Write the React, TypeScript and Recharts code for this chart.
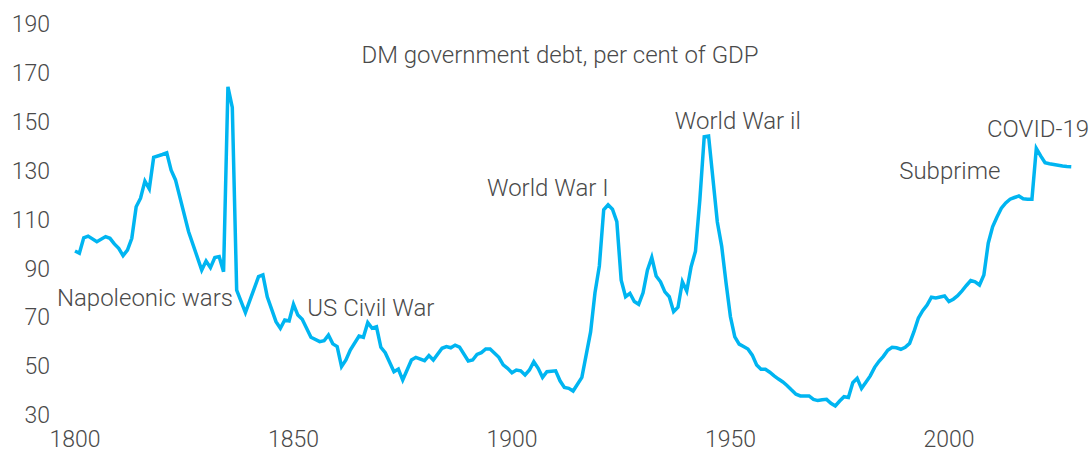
import React from 'react';
import { LineChart, Line, XAxis, YAxis, ReferenceDot } from 'recharts';

// year / debt (% of GDP)
const years = [
  1800, 1801, 1802, 1803, 1805, 1807, 1808, 1809, 1810, 1811, 1812, 1813, 1814, 1815, 1816, 1817,
  1818, 1820, 1821, 1822, 1823, 1826, 1829, 1830, 1831, 1832, 1833, 1834, 1835, 1836, 1837, 1839,
  1842, 1843, 1844, 1846, 1847, 1848, 1849, 1850, 1851, 1852, 1854, 1856, 1857, 1858, 1859, 1860,
  1861, 1862, 1863, 1865, 1866, 1867, 1868, 1869, 1870, 1871, 1873, 1874, 1875, 1877, 1878, 1880,
  1881, 1882, 1884, 1885, 1886, 1887, 1888, 1890, 1891, 1892, 1893, 1894, 1895, 1897, 1898, 1899,
  1900, 1901, 1902, 1903, 1904, 1905, 1906, 1907, 1908, 1910, 1911, 1912, 1913, 1914, 1916, 1918,
  1919, 1920, 1921, 1922, 1923, 1924, 1925, 1926, 1927, 1928, 1929, 1930, 1931, 1932, 1933, 1934,
  1935, 1936, 1937, 1938, 1939, 1940, 1941, 1942, 1943, 1944, 1945, 1947, 1948, 1949, 1950, 1951,
  1952, 1953, 1954, 1955, 1956, 1957, 1958, 1959, 1960, 1961, 1962, 1963, 1964, 1965, 1966, 1968,
  1969, 1970, 1971, 1972, 1973, 1974, 1975, 1976, 1977, 1978, 1979, 1980, 1981, 1982, 1983, 1984,
  1985, 1986, 1987, 1988, 1989, 1990, 1991, 1992, 1993, 1994, 1995, 1996, 1997, 1998, 1999, 2000,
  2001, 2002, 2003, 2004, 2005, 2006, 2007, 2008, 2009, 2010, 2011, 2012, 2013, 2014, 2015, 2016,
  2017, 2018, 2019, 2020, 2021, 2022, 2023, 2024, 2025, 2026, 2027, 2028,
];

const debt = [
  97.1, 96.2, 102.5, 103.2, 100.9, 103, 102.3, 100, 98.2, 95.2, 97.5, 102.3, 115.2, 118.7, 125.7, 122.5,
  135.4, 136.6, 137.3, 130.2, 126.2, 105, 89.3, 93, 90.3, 94.4, 94.8, 88.6, 164.3, 155.9, 81.1, 71.9,
  86.6, 87.3, 78.4, 68.2, 65.5, 68.9, 68.5, 75.3, 70.9, 69.2, 61.8, 60, 60.4, 62.7, 59.1, 58,
  49.8, 52.5, 56.6, 62.3, 61.8, 67.8, 65.5, 66.1, 57.7, 55.5, 47.7, 48.8, 44.3, 52.5, 53.6, 52.2,
  54.3, 52.5, 57.3, 58, 57.5, 58.6, 57.8, 52.1, 52.5, 54.8, 55.5, 57, 57, 53.6, 50.5, 49.1,
  47.3, 48.4, 48.1, 46.4, 48.4, 51.8, 49.1, 45.4, 47.7, 48.1, 44, 41.3, 40.9, 39.8, 45.4, 64,
  80, 91, 114, 116, 114.2, 109.1, 85.2, 78.4, 79.8, 76.4, 75.3, 80, 89.3, 94.5, 86.9, 84.5,
  80.4, 78.4, 72.3, 74.1, 84.5, 80.7, 90.7, 97, 118, 143.9, 144.2, 109, 99, 84, 70.2, 62,
  59, 58, 57, 54.5, 50.5, 48.7, 48.7, 47.5, 46, 44.7, 43.5, 42, 40.2, 38.5, 37.8, 37.8,
  36.4, 35.9, 36.2, 36.4, 34.8, 33.7, 35.7, 37.5, 37.2, 43.2, 45, 40.9, 43.4, 46, 49.5, 52,
  54, 56.5, 57.7, 57.5, 56.9, 57.7, 59.3, 64.1, 69.6, 72.7, 75, 78.2, 77.9, 78.3, 78.7, 76.4,
  77.4, 78.8, 80.8, 83, 85, 84.5, 83.2, 87.3, 100.3, 107, 111, 114.6, 116.8, 118.3, 119, 119.6,
  118.5, 118.3, 118.3, 139.1, 136, 133.2, 132.8, 132.5, 132.2, 131.9, 131.7, 131.6,
];

const xTicks = [1800, 1850, 1900, 1950, 2000];
const yTicks = [30, 50, 70, 90, 110, 130, 150, 170, 190];

// annotation text and where it sits (year, value)
const noteText = [
  'DM government debt, per cent of GDP',
  'Napoleonic wars',
  'US Civil War',
  'World War I',
  'World War il',
  'Subprime',
  'COVID-19',
];
const noteYear = [1911, 1816, 1867.7, 1908.2, 1951.7, 2000.2, 2020.4];
const noteValue = [177.3, 77.9, 73.8, 122.9, 150.3, 129.8, 147];

const data = years.map((y, i) => ({ year: y, debt: debt[i] }));

const FONT = 'Roboto, "Noto Sans", sans-serif';
const TEXT = '#4a4a4a';

export default function App() {
  const tick = { fill: TEXT, fontSize: 23, fontFamily: FONT, fontWeight: 300 };

  return (
    <div style={{ position: 'absolute', left: 8, top: 8, width: 1083, height: 449 }}>
      <LineChart width={1083} height={449} data={data} margin={{ top: 16, right: 11, left: 0, bottom: 0 }}>
        <XAxis
          dataKey="year"
          type="number"
          domain={[1800, 2030]}
          ticks={xTicks}
          axisLine={false}
          tickLine={false}
          tickSize={0}
          tickMargin={16}
          height={42}
          tick={tick}
        />
        <YAxis
          type="number"
          domain={[30, 190]}
          ticks={yTicks}
          axisLine={false}
          tickLine={false}
          tickSize={0}
          tickMargin={25}
          width={67}
          tick={tick}
        />
        <Line
          type="linear"
          dataKey="debt"
          stroke="#00b5f1"
          strokeWidth={3.5}
          dot={false}
          isAnimationActive={false}
        />
        {noteText.map((t, i) => (
          <ReferenceDot
            key={t}
            x={noteYear[i]}
            y={noteValue[i]}
            r={1}
            ifOverflow="visible"
            shape={(p: any) => (
              <text
                x={p.cx}
                y={p.cy}
                textAnchor="middle"
                dominantBaseline="central"
                fill={TEXT}
                fontSize={24}
                fontFamily={FONT}
                fontWeight={300}
              >
                {t}
              </text>
            )}
          />
        ))}
      </LineChart>
    </div>
  );
}
